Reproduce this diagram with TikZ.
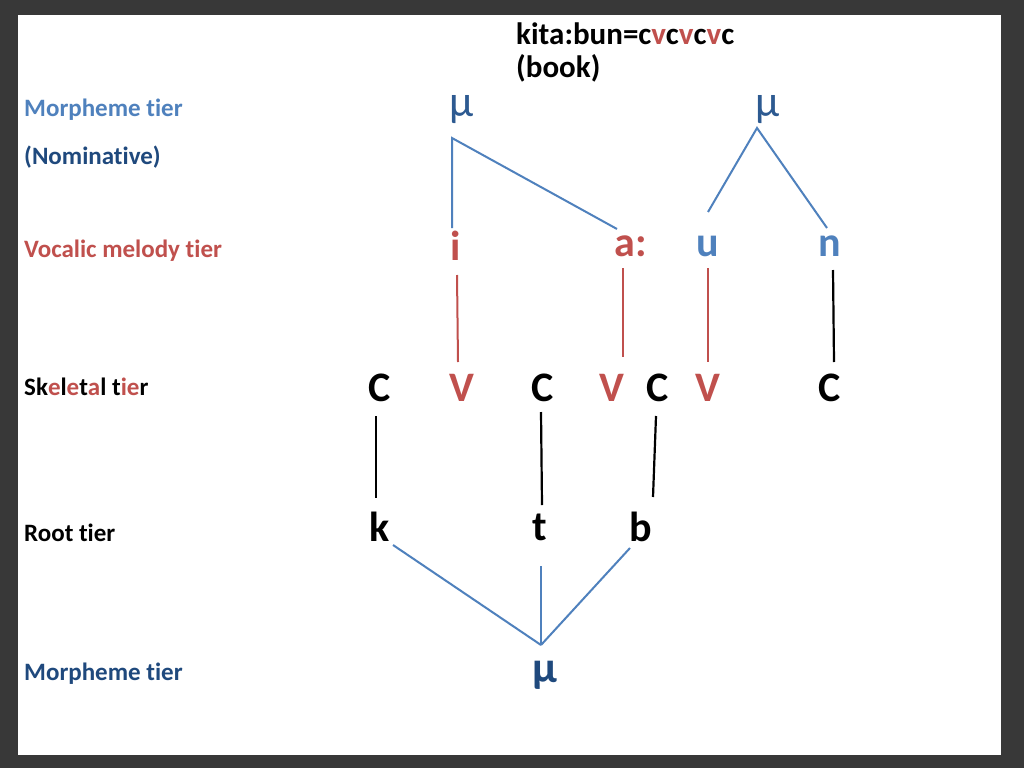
\documentclass[tikz,border=0pt]{standalone}
\usepackage{fontspec}
\setmainfont[Ligatures={NoCommon,NoRequired,NoContextual}]{Carlito}
\begin{document}
\begin{tikzpicture}[x=1pt,y=-1pt,
  lab/.style={anchor=west,font=\fontsize{25}{28}\selectfont\bfseries,inner sep=0},
  big/.style={font=\fontsize{42}{46}\selectfont\bfseries,inner sep=0},
  mu/.style={font=\fontsize{44}{48}\selectfont,inner sep=0,text=muc},
  bl/.style={draw=lb,line width=2pt},
  rl/.style={draw=rd,line width=2pt},
  kl/.style={draw=black,line width=2.2pt}]
\definecolor{lb}{RGB}{79,129,189}
\definecolor{db}{RGB}{31,73,125}
\definecolor{muc}{RGB}{45,90,145}
\definecolor{rd}{RGB}{192,80,77}
\fill[black!78] (0,0) rectangle (1024,768);
\fill[white] (18,15) rectangle (1001,755);
\useasboundingbox (0,0) rectangle (1024,768);
% top text
\node[anchor=west,inner sep=0,font=\fontsize{31}{34}\selectfont\bfseries] (title) at (516,34) {kita:bun=c\textcolor{rd}{v}c\textcolor{rd}{v}c\textcolor{rd}{v}c};
\node[anchor=west,inner sep=0,font=\fontsize{31}{34}\selectfont\bfseries] (book) at (516,68) {(book)};
% left labels
\node[lab,text=lb] (l1) at (24,110) {Morpheme tier};
\node[lab,text=db] (l2) at (24,157) {(Nominative)};
\node[lab,text=rd] (l3) at (24,251) {Vocalic melody tier};
\node[lab] (l4) at (24,387) {Sk\textcolor{rd}{e}l\textcolor{rd}{e}t\textcolor{rd}{a}l t\textcolor{rd}{ie}r};
\node[lab] (l5) at (24,533) {Root tier};
\node[lab,text=db] (l6) at (24,674) {Morpheme tier};
% morphemes
\node[mu] (m1) at (462,110) {μ};
\node[mu] (m2) at (768,110) {μ};
\node[mu,text=db,font=\fontsize{44}{48}\selectfont\bfseries] (m3) at (545,675) {μ};
% melody
\node[big,text=rd] (i) at (456,246) {i};
\node[big,text=rd] (a) at (631,246) {a:};
\node[big,text=lb] (u) at (708,246) {u};
\node[big,text=lb] (n) at (830,246) {n};
% skeletal
\node[big] (c1) at (380,388) {C};
\node[big,text=rd] (v1) at (462,388) {V};
\node[big] (c2) at (543,388) {C};
\node[big,text=rd] (v2) at (612,388) {V};
\node[big] (c3) at (658,388) {C};
\node[big,text=rd] (v3) at (708,388) {V};
\node[big] (c4) at (830,388) {C};
% root
\node[big] (k) at (380,527) {k};
\node[big] (t) at (540,527) {t};
\node[big] (b) at (641,527) {b};
% connector endpoints
\coordinate (p1) at (452,138); \coordinate (p1a) at (452,228); \coordinate (p1b) at (617,229);
\coordinate (p2) at (757,128); \coordinate (p2a) at (708,212); \coordinate (p2b) at (827,228);
\coordinate (p3) at (541,645);
\draw[bl] (p1a) -- (p1) -- (p1b);
\draw[bl] (p2a) -- (p2) -- (p2b);
\draw[rl] (457,275) -- (458,362);
\draw[rl] (623,268) -- (623,357);
\draw[rl] (708,268) -- (708,362);
\draw[kl] (833,270) -- (834,362);
\draw[kl] (376,416) -- (376,498);
\draw[kl] (541,412) -- (542,505);
\draw[kl] (656,416) -- (653,497);
\draw[bl] (393,545) -- (p3);
\draw[bl] (541,566) -- (p3);
\draw[bl] (630,548) -- (p3);
\end{tikzpicture}
\end{document}
